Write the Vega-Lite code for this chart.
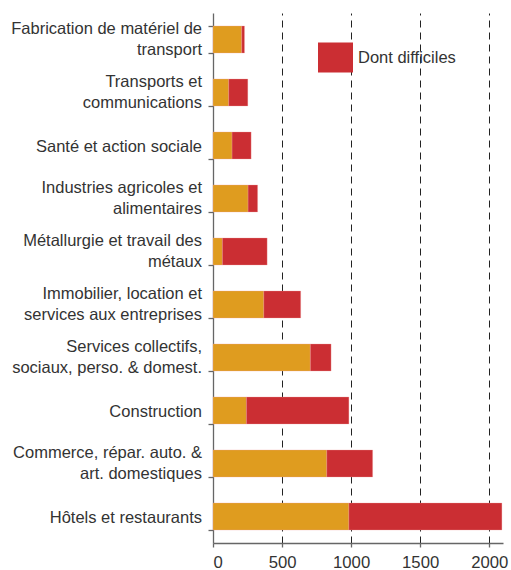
{
  "$schema": "https://vega.github.io/schema/vega-lite/v6.json",
  "autosize": {"type": "none"},
  "padding": {"left": 213, "top": 13, "right": 8, "bottom": 27},
  "width": 290,
  "height": 530,
  "config": {
    "view": {"stroke": null},
    "font": "Liberation Sans",
    "axis": {"labelFont": "Liberation Sans", "labelColor": "#333333"},
    "legend": {"labelFont": "Liberation Sans"}
  },
  "data": {
    "values": [
      {"secteur": "Fabrication de matériel de|transport", "type": "Non difficiles", "rang": 1, "valeur": 208},
      {"secteur": "Fabrication de matériel de|transport", "type": "Dont difficiles", "rang": 2, "valeur": 20},
      {"secteur": "Transports et|communications", "type": "Non difficiles", "rang": 1, "valeur": 114},
      {"secteur": "Transports et|communications", "type": "Dont difficiles", "rang": 2, "valeur": 138},
      {"secteur": "Santé et action sociale", "type": "Non difficiles", "rang": 1, "valeur": 138},
      {"secteur": "Santé et action sociale", "type": "Dont difficiles", "rang": 2, "valeur": 138},
      {"secteur": "Industries agricoles et|alimentaires", "type": "Non difficiles", "rang": 1, "valeur": 254},
      {"secteur": "Industries agricoles et|alimentaires", "type": "Dont difficiles", "rang": 2, "valeur": 69},
      {"secteur": "Métallurgie et travail des|métaux", "type": "Non difficiles", "rang": 1, "valeur": 68},
      {"secteur": "Métallurgie et travail des|métaux", "type": "Dont difficiles", "rang": 2, "valeur": 324},
      {"secteur": "Immobilier, location et|services aux entreprises", "type": "Non difficiles", "rang": 1, "valeur": 368},
      {"secteur": "Immobilier, location et|services aux entreprises", "type": "Dont difficiles", "rang": 2, "valeur": 267},
      {"secteur": "Services collectifs,|sociaux, perso. & domest.", "type": "Non difficiles", "rang": 1, "valeur": 705},
      {"secteur": "Services collectifs,|sociaux, perso. & domest.", "type": "Dont difficiles", "rang": 2, "valeur": 150},
      {"secteur": "Construction", "type": "Non difficiles", "rang": 1, "valeur": 242},
      {"secteur": "Construction", "type": "Dont difficiles", "rang": 2, "valeur": 742},
      {"secteur": "Commerce, répar. auto. &|art. domestiques", "type": "Non difficiles", "rang": 1, "valeur": 824},
      {"secteur": "Commerce, répar. auto. &|art. domestiques", "type": "Dont difficiles", "rang": 2, "valeur": 332},
      {"secteur": "Hôtels et restaurants", "type": "Non difficiles", "rang": 1, "valeur": 984},
      {"secteur": "Hôtels et restaurants", "type": "Dont difficiles", "rang": 2, "valeur": 1108}
    ]
  },
  "encoding": {
    "y": {
      "field": "secteur",
      "type": "nominal",
      "sort": null,
      "title": null,
      "scale": {"paddingInner": 0.49, "paddingOuter": 0.245},
      "axis": {
        "labels": false,
        "tickBand": "extent",
        "tickSize": 5,
        "domainColor": "#666666",
        "domainWidth": 1.3,
        "tickColor": "#666666",
        "tickWidth": 1.3
      }
    }
  },
  "layer": [
    {
      "mark": {"type": "bar", "stroke": "#f0a0a0", "strokeWidth": 0.5, "strokeOpacity": 0.6},
      "encoding": {
        "x": {
          "field": "valeur",
          "type": "quantitative",
          "stack": "zero",
          "title": null,
          "scale": {"domain": [0, 2100], "nice": false},
          "axis": {
            "values": [0, 500, 1000, 1500, 2000],
            "format": "d",
            "labelFontSize": 16.7,
            "tickSize": 4,
            "labelPadding": 7,
            "domainColor": "#666666",
            "domainWidth": 1.3,
            "tickColor": "#666666",
            "tickWidth": 1.3,
            "grid": true,
            "gridColor": "#222222",
            "gridDash": [7, 5],
            "gridWidth": 1,
            "gridOpacity": {"condition": {"test": "datum.value === 0", "value": 0}, "value": 1}
          }
        },
        "order": {"field": "rang", "type": "quantitative"},
        "color": {
          "field": "type",
          "type": "nominal",
          "scale": {"domain": ["Non difficiles", "Dont difficiles"], "range": ["#DF9C1F", "#CB2E33"]},
          "legend": {
            "values": ["Dont difficiles"],
            "title": null,
            "orient": "none",
            "legendX": 105,
            "legendY": 27,
            "padding": 0,
            "symbolType": "M-1,-0.857H1V0.857H-1Z",
            "symbolSize": 1225,
            "symbolStrokeWidth": 0,
            "symbolOpacity": 1,
            "labelFontSize": 16.5,
            "labelColor": "#333333",
            "labelOffset": 5
          }
        }
      }
    },
    {
      "transform": [
        {"filter": "datum.type === 'Dont difficiles' && indexof(datum.secteur, '|') >= 0"}
      ],
      "mark": {
        "type": "text",
        "align": "right",
        "baseline": "middle",
        "lineBreak": "|",
        "lineHeight": 21,
        "fontSize": 16.5,
        "font": "Liberation Sans",
        "color": "#333333",
        "dx": -11,
        "dy": -10.5
      },
      "encoding": {
        "x": {"datum": 0, "type": "quantitative"},
        "text": {"field": "secteur", "type": "nominal"}
      }
    },
    {
      "transform": [
        {"filter": "datum.type === 'Dont difficiles' && indexof(datum.secteur, '|') < 0"}
      ],
      "mark": {
        "type": "text",
        "align": "right",
        "baseline": "middle",
        "fontSize": 16.5,
        "font": "Liberation Sans",
        "color": "#333333",
        "dx": -11,
        "dy": 1.5
      },
      "encoding": {
        "x": {"datum": 0, "type": "quantitative"},
        "text": {"field": "secteur", "type": "nominal"}
      }
    }
  ]
}
